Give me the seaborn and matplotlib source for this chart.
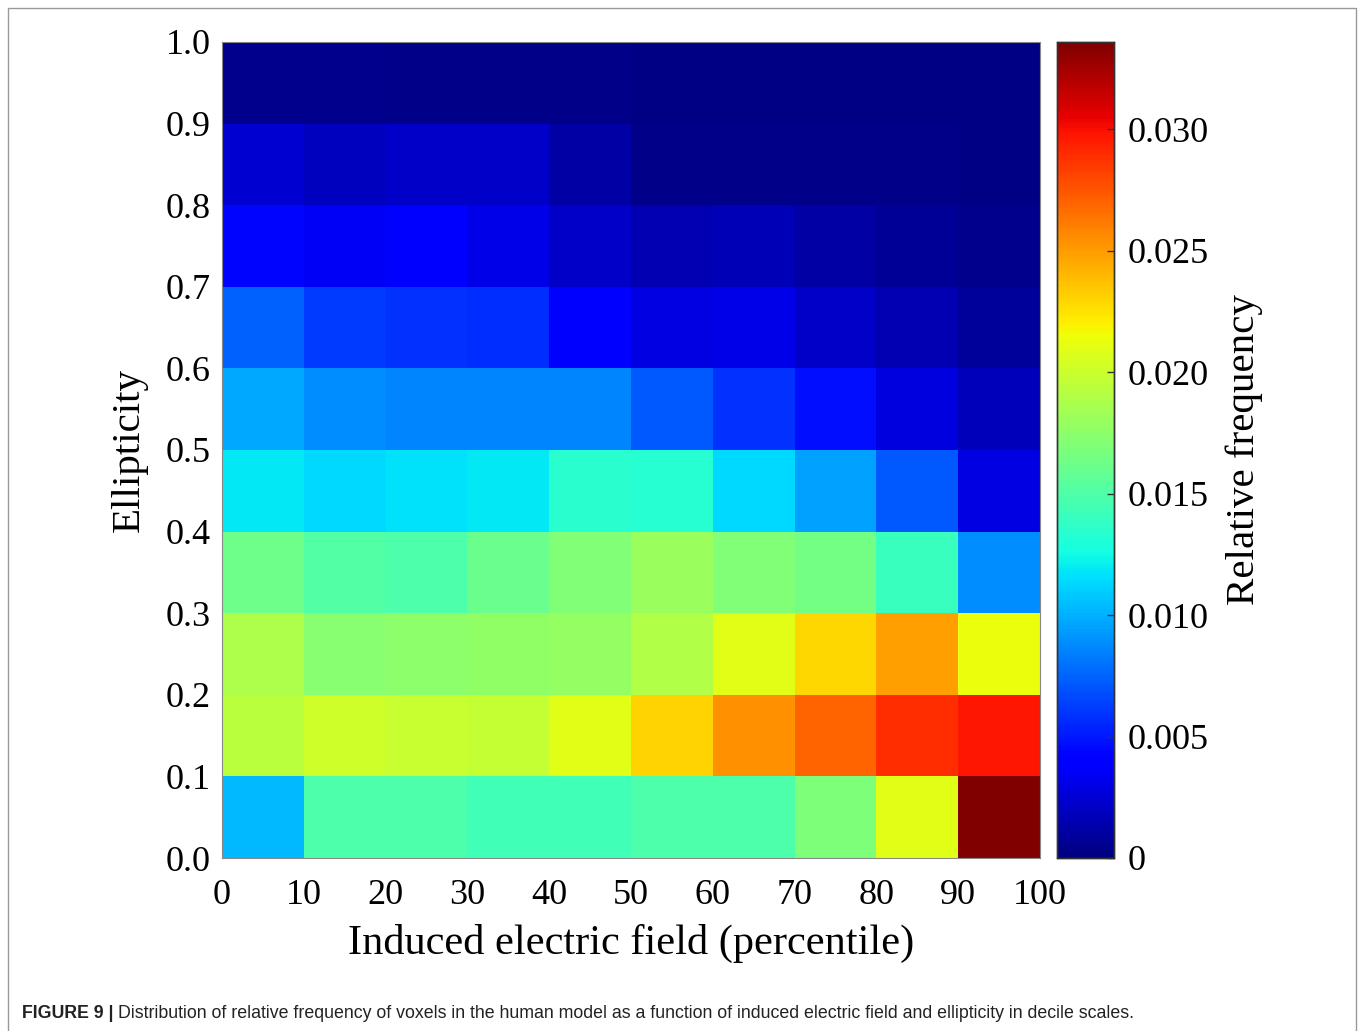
import numpy as np
import pandas as pd
import seaborn as sns
import matplotlib
matplotlib.use("Agg")
import matplotlib.pyplot as plt
from matplotlib.patches import Rectangle

# Percentile bins (x) and ellipticity bins (y)
x_edges = [0, 10, 20, 30, 40, 50, 60, 70, 80, 90, 100]
y_edges = ["1.0", "0.9", "0.8", "0.7", "0.6", "0.5", "0.4", "0.3", "0.2", "0.1", "0.0"]

# Relative frequency, rows from ellipticity 0.9-1.0 (top) to 0.0-0.1 (bottom)
row_09_10 = [0.0004, 0.0004, 0.0003, 0.0003, 0.0003, 0.0002, 0.0002, 0.0002, 0.0002, 0.0002]
row_08_09 = [0.0024, 0.0019, 0.0022, 0.0021, 0.0011, 0.0003, 0.0003, 0.0003, 0.0003, 0.0002]
row_07_08 = [0.0044, 0.0035, 0.0040, 0.0031, 0.0022, 0.0015, 0.0016, 0.0011, 0.0007, 0.0004]
row_06_07 = [0.0074, 0.0061, 0.0059, 0.0057, 0.0040, 0.0030, 0.0031, 0.0021, 0.0015, 0.0009]
row_05_06 = [0.0098, 0.0088, 0.0086, 0.0086, 0.0086, 0.0071, 0.0059, 0.0046, 0.0028, 0.0018]
row_04_05 = [0.0119, 0.0114, 0.0116, 0.0119, 0.0134, 0.0133, 0.0113, 0.0095, 0.0071, 0.0030]
row_03_04 = [0.0162, 0.0152, 0.0149, 0.0161, 0.0170, 0.0180, 0.0170, 0.0165, 0.0141, 0.0088]
row_02_03 = [0.0188, 0.0173, 0.0175, 0.0177, 0.0178, 0.0189, 0.0209, 0.0229, 0.0249, 0.0213]
row_01_02 = [0.0194, 0.0201, 0.0199, 0.0197, 0.0209, 0.0230, 0.0254, 0.0270, 0.0289, 0.0297]
row_00_01 = [0.0103, 0.0149, 0.0149, 0.0144, 0.0144, 0.0149, 0.0149, 0.0168, 0.0209, 0.0336]

cbar_ticks = [0, 0.005, 0.010, 0.015, 0.020, 0.025, 0.030]
cbar_ticklabels = ["0", "0.005", "0.010", "0.015", "0.020", "0.025", "0.030"]

data = pd.DataFrame(
    [row_09_10, row_08_09, row_07_08, row_06_07, row_05_06,
     row_04_05, row_03_04, row_02_03, row_01_02, row_00_01]
)

W, H = 1358, 1031
fig = plt.figure(figsize=(W / 100, H / 100), dpi=100)
fig.patch.set_facecolor("white")

def fx(px):
    return px / W

def fy(py):
    return 1 - py / H

ax = fig.add_axes([fx(222), fy(858), fx(1040) - fx(222), fy(42) - fy(858)])
cax = fig.add_axes([fx(1057), fy(858), fx(1114) - fx(1057), fy(42) - fy(858)])

sns.heatmap(data, ax=ax, cbar_ax=cax, cmap="jet", vmin=0, vmax=0.0336,
            linewidths=0, xticklabels=False, yticklabels=False)

serif = "Liberation Serif"
ax.set_xticks(np.arange(len(x_edges)))
ax.set_xticklabels([str(v) for v in x_edges], family=serif, fontsize=26)
ax.set_yticks(np.arange(len(y_edges)))
ax.set_yticklabels(y_edges, family=serif, fontsize=26, rotation=0)
ax.tick_params(axis="both", length=0, pad=8)
ax.tick_params(axis="x", pad=15)
ax.set_xlabel("Induced electric field (percentile)", family=serif, fontsize=30.5, labelpad=9)
ax.set_ylabel("Ellipticity", family=serif, fontsize=29.5, labelpad=13)
for s in ax.spines.values():
    s.set_visible(True)
    s.set_color("#888888")
    s.set_linewidth(0.8)

cax.set_yticks(cbar_ticks)
cax.set_yticklabels(cbar_ticklabels, family=serif, fontsize=26)
cax.tick_params(axis="y", direction="in", length=5, width=1, pad=10, color="#333333")
cax.set_ylabel("Relative frequency", family=serif, fontsize=29.5, labelpad=12)
for s in cax.spines.values():
    s.set_visible(True)
    s.set_color("#333333")
    s.set_linewidth(1)

# outer frame
fig.patches.append(Rectangle((fx(8), fy(1040)), fx(1356) - fx(8), fy(8) - fy(1040),
                             transform=fig.transFigure, fill=False,
                             edgecolor="#999999", linewidth=1))

# caption
t1 = fig.text(fx(22), fy(1013), "FIGURE 9 |", family="Liberation Sans",
              fontweight="bold", fontsize=12.8, va="center", ha="left", color="#222222")
fig.canvas.draw()
bb = t1.get_window_extent()
fig.text(bb.x1 / W + fx(4), fy(1013),
         "Distribution of relative frequency of voxels in the human model as a function of induced electric field and ellipticity in decile scales.",
         family="Liberation Sans", fontsize=12.8, va="center", ha="left", color="#222222")

fig.savefig("out.png", dpi=100)
